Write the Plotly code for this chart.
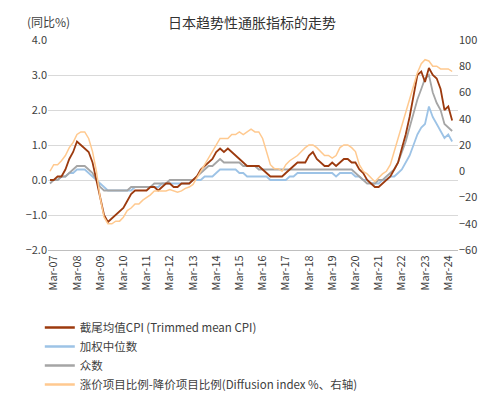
import pandas as pd
import plotly.graph_objects as go

dates = pd.date_range("2007-01-01", periods=105, freq="2MS")

trimmed = [0.0,0.0,0.1,0.1,0.3,0.6, 0.8,1.1,1.0,0.9,0.8,0.5, 0.0,-0.5,-1.0,-1.2,-1.1,-1.0,
 -0.9,-0.8,-0.6,-0.4,-0.3,-0.3, -0.3,-0.3,-0.2,-0.2,-0.3,-0.2, -0.1,-0.1,-0.2,-0.2,-0.1,-0.1,
 -0.1,0.0,0.1,0.3,0.4,0.5, 0.6,0.8,0.9,0.8,0.9,0.8, 0.7,0.6,0.5,0.4,0.4,0.4,
 0.4,0.3,0.2,0.1,0.1,0.1, 0.1,0.2,0.3,0.4,0.5,0.5, 0.5,0.7,0.8,0.6,0.5,0.4,
 0.4,0.5,0.4,0.5,0.6,0.6, 0.5,0.5,0.3,0.2,0.0,-0.1, -0.2,-0.2,-0.1,0.0,0.1,0.3,
 0.5,0.9,1.3,1.8,2.4,3.0, 3.1,2.8,3.2,3.0,2.9,2.6, 2.0,2.1,1.7]
wmedian = [0.0,0.0,0.0,0.1,0.1,0.2, 0.2,0.3,0.3,0.3,0.2,0.1, 0.0,-0.1,-0.2,-0.3,-0.3,-0.3,
 -0.3,-0.3,-0.3,-0.3,-0.2,-0.2, -0.2,-0.2,-0.2,-0.2,-0.2,-0.1, -0.1,-0.1,-0.1,-0.1,-0.1,-0.1,
 -0.1,0.0,0.0,0.0,0.1,0.1, 0.1,0.2,0.3,0.3,0.3,0.3, 0.3,0.2,0.2,0.1,0.1,0.1,
 0.1,0.1,0.1,0.0,0.0,0.0, 0.0,0.0,0.1,0.1,0.2,0.2, 0.2,0.2,0.2,0.2,0.2,0.2,
 0.2,0.2,0.1,0.2,0.2,0.2, 0.2,0.1,0.1,0.0,0.0,-0.1, -0.1,-0.1,0.0,0.0,0.1,0.1,
 0.2,0.3,0.5,0.7,1.0,1.3, 1.5,1.6,2.1,1.8,1.6,1.4, 1.2,1.3,1.1]
mode = [-0.1,0.0,0.0,0.1,0.1,0.2, 0.3,0.4,0.4,0.4,0.3,0.2, 0.0,-0.2,-0.3,-0.3,-0.3,-0.3,
 -0.3,-0.3,-0.3,-0.2,-0.2,-0.2, -0.2,-0.2,-0.2,-0.1,-0.1,-0.1, -0.1,0.0,0.0,0.0,0.0,0.0,
 0.0,0.0,0.1,0.2,0.3,0.4, 0.4,0.5,0.6,0.5,0.5,0.5, 0.5,0.5,0.4,0.4,0.4,0.4,
 0.3,0.3,0.3,0.3,0.3,0.3, 0.3,0.3,0.3,0.3,0.3,0.3, 0.3,0.3,0.3,0.3,0.3,0.3,
 0.3,0.3,0.3,0.3,0.3,0.3, 0.3,0.2,0.1,0.0,-0.1,-0.1, -0.1,0.0,0.0,0.1,0.2,0.3,
 0.5,0.8,1.1,1.5,1.9,2.3, 2.6,2.9,3.0,2.5,2.2,2.0, 1.6,1.5,1.4]
diffusion = [0,5,5,8,12,18, 22,28,30,30,25,15, 0,-20,-35,-40,-40,-38,
 -38,-35,-30,-28,-25,-25, -22,-20,-18,-15,-15,-15, -15,-14,-15,-16,-15,-13,
 -12,-10,-5,0,5,10, 15,20,25,25,25,28, 28,30,28,30,32,30,
 30,25,15,5,2,2, 0,5,8,10,12,15, 18,20,20,18,15,12,
 12,10,12,18,20,20, 18,15,5,0,-2,-5, -8,-5,-2,0,5,15,
 25,35,45,55,65,75, 82,85,84,80,80,78, 78,78,76]

names = ["截尾均值CPI (Trimmed mean CPI)", "加权中位数", "众数", "涨价项目比例-降价项目比例(Diffusion index %、右轴)"]
colors = ["#9C3A0E", "#9DC3E6", "#A5A5A5", "#FFC98F"]

fig = go.Figure()
fig.add_trace(go.Scatter(x=dates, y=diffusion, name=names[3], yaxis="y2", mode="lines",
                         line=dict(color=colors[3], width=1.5), showlegend=False))
for s, n, c in [(wmedian, names[1], colors[1]), (mode, names[2], colors[2]), (trimmed, names[0], colors[0])]:
    fig.add_trace(go.Scatter(x=dates, y=s, name=n, mode="lines", line=dict(color=c, width=1.8), showlegend=False))
for n, c in zip(names, colors):
    fig.add_trace(go.Scatter(x=[None], y=[None], name=n, mode="lines", line=dict(color=c, width=2.5), showlegend=True))

fig.update_layout(
    width=488, height=410, margin=dict(l=40, r=38, t=32, b=168),
    plot_bgcolor="white", paper_bgcolor="white",
    font=dict(family="Noto Sans CJK SC", size=11, color="#404040"),
    title=dict(text="日本趋势性通胀指标的走势", x=0.5, y=0.975, xanchor="center", font=dict(size=14, color="#333")),
    xaxis=dict(tick0="2007-03-01", dtick="M12", tickformat="%b-%y", tickangle=-90,
               range=["2006-12-01", "2024-08-01"], showgrid=False, showline=True, linecolor="#BFBFBF",
               ticks="", tickfont=dict(size=11)),
    yaxis=dict(range=[-2, 4], dtick=1, tickformat=".1f", gridcolor="#D9D9D9", zeroline=False, tickfont=dict(size=11)),
    yaxis2=dict(range=[-60, 100], dtick=20, overlaying="y", side="right", showgrid=False, zeroline=False, tickfont=dict(size=11)),
    legend=dict(x=-0.02, y=-0.3, xanchor="left", yanchor="top", font=dict(size=11.5), tracegroupgap=0, itemwidth=30),
    annotations=[dict(text="(同比%)", x=0, y=1.0, xref="paper", yref="paper", xanchor="center", yanchor="bottom",
                      yshift=8, showarrow=False, font=dict(size=12))],
)
fig.write_html("out.html")
